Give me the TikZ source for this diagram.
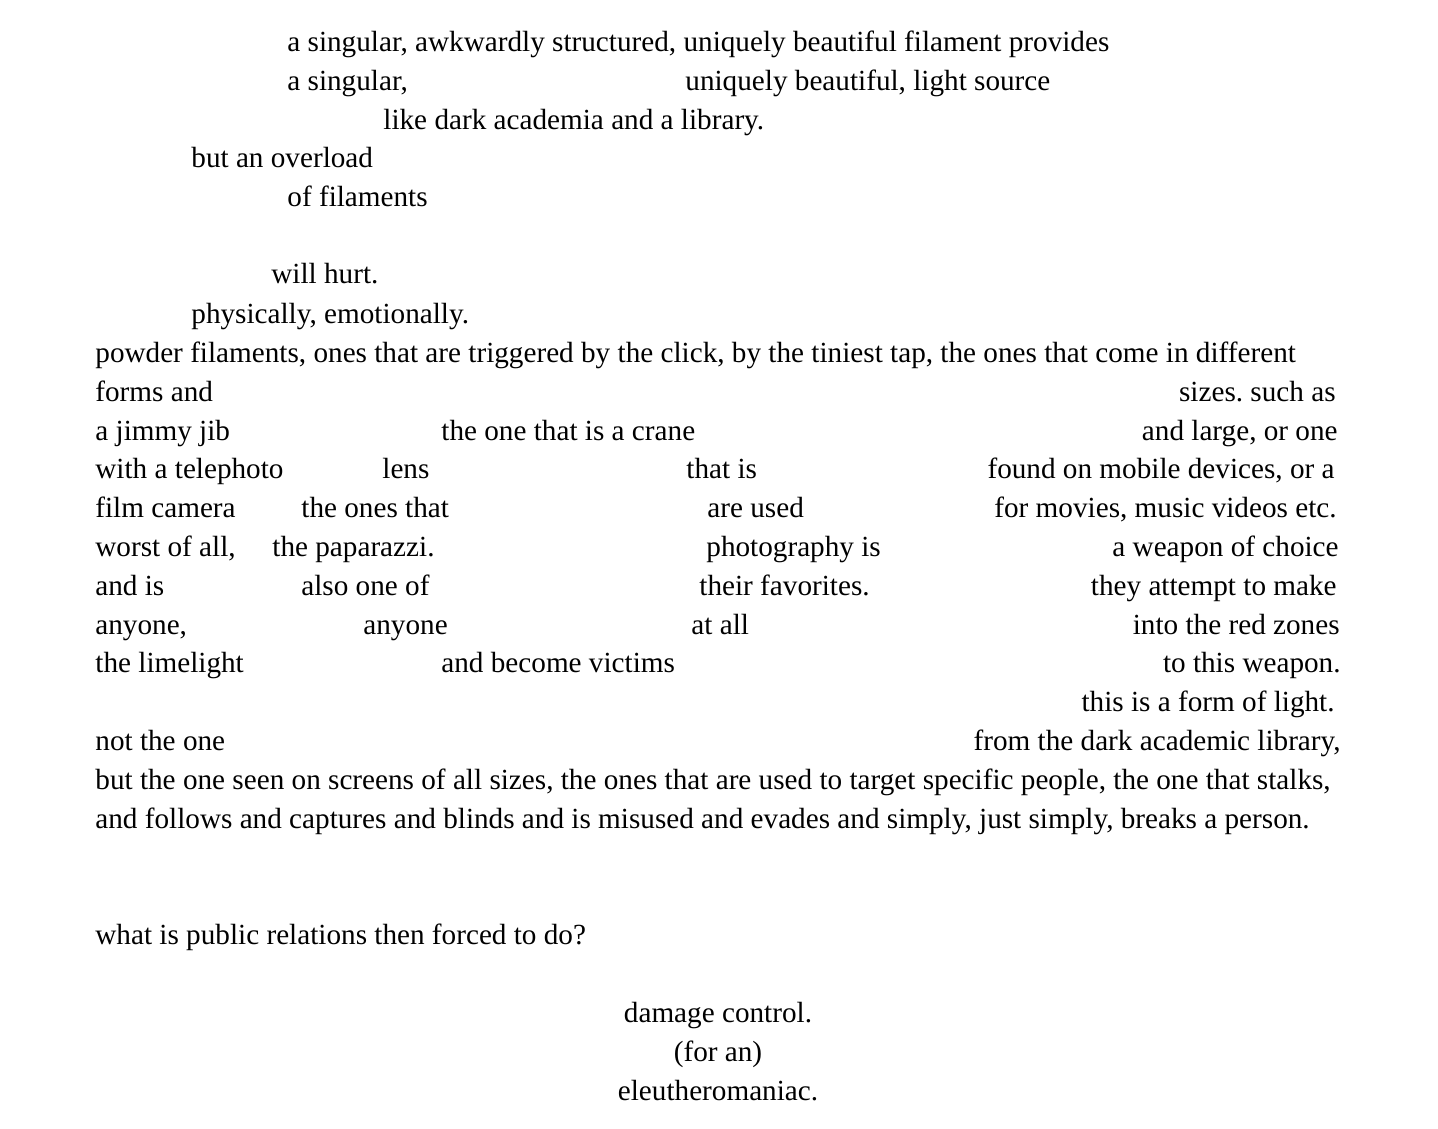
\documentclass[tikz,border=0pt]{standalone}
\usepackage{fontspec}
\setmainfont{Liberation Serif}
\frenchspacing
\tikzset{
  ln/.style={anchor=base west, inner sep=0pt, font=\fontsize{14.6}{17}\selectfont},
  rn/.style={ln, anchor=base east},
  cn/.style={ln, anchor=base}
}
\begin{document}
\begin{tikzpicture}[x=0.5pt, y=-0.5pt]
  \useasboundingbox (0,0) rectangle (1438,1128);
  \begin{scope}[yshift=0.5pt]
  \node[ln] (a0) at (287,53) {a singular, awkwardly structured, uniquely beautiful filament provides};
  \node[ln] (a1) at (287,92) {a singular,};
  \node[ln] (b1) at (685,92) {uniquely beautiful, light source};
  \node[ln] (a2) at (383,131) {like dark academia and a library.};
  \node[ln] (a3) at (191,169) {but an overload};
  \node[ln] (a4) at (287,208) {of filaments};
  \node[ln] (a6) at (271,285) {will hurt.};
  \node[ln] (a7) at (191,324) {physically, emotionally.};
  \node[ln] (a8) at (95,363) {powder filaments, ones that are triggered by the click, by the tiniest tap, the ones that come in different};
  \node[ln] (a9) at (95,402) {forms and};
  \node[rn] (d9) at (1336,402) {sizes. such as};
  \node[ln] (a10) at (95,441) {a jimmy jib};
  \node[ln] (b10) at (441,441) {the one that is a crane};
  \node[rn] (d10) at (1338,441) {and large, or one};
  \node[ln] (a11) at (95,479) {with a telephoto};
  \node[ln] (b11) at (382,479) {lens};
  \node[ln] (c11) at (686,479) {that is};
  \node[rn] (d11) at (1335,479) {found on mobile devices, or a};
  \node[ln] (a12) at (95,518) {film camera};
  \node[ln] (b12) at (301,518) {the ones that};
  \node[ln] (c12) at (707,518) {are used};
  \node[rn] (d12) at (1337,518) {for movies, music videos etc.};
  \node[ln] (a13) at (95,557) {worst of all,};
  \node[ln] (b13) at (272,557) {the paparazzi.};
  \node[ln] (c13) at (706,557) {photography is};
  \node[rn] (d13) at (1339,557) {a weapon of choice};
  \node[ln] (a14) at (95,596) {and is};
  \node[ln] (b14) at (301,596) {also one of};
  \node[ln] (c14) at (699,596) {their favorites.};
  \node[rn] (d14) at (1337,596) {they attempt to make};
  \node[ln] (a15) at (95,635) {anyone,};
  \node[ln] (b15) at (363,635) {anyone};
  \node[ln] (c15) at (691,635) {at all};
  \node[rn] (d15) at (1340,635) {into the red zones};
  \node[ln] (a16) at (95,673) {the limelight};
  \node[ln] (b16) at (441,673) {and become victims};
  \node[rn] (d16) at (1341,673) {to this weapon.};
  \node[rn] (d17) at (1335,712) {this is a form of light.};
  \node[ln] (a18) at (95,751) {not the one};
  \node[rn] (d18) at (1341,751) {from the dark academic library,};
  \node[ln] (a19) at (95,790) {but the one seen on screens of all sizes, the ones that are used to target specific people, the one that stalks,};
  \node[ln] (a20) at (95,829) {and follows and captures and blinds and is misused and evades and simply, just simply, breaks a person.};
  \node[ln] (a23) at (95,945) {what is public relations then forced to do?};
  \node[cn] (e25) at (718,1023) {damage control.};
  \node[cn] (e26) at (718,1062) {(for an)};
  \node[cn] (e27) at (718,1101) {eleutheromaniac.};
  \end{scope}
\end{tikzpicture}
\end{document}
